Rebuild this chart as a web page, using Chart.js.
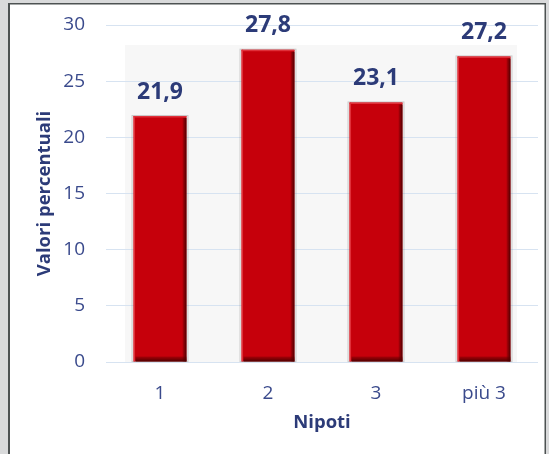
<!DOCTYPE html>
<html>
<head>
<meta charset="utf-8">
<script src="https://cdn.jsdelivr.net/npm/chart.js@4.4.1/dist/chart.umd.min.js"></script>
<style>
  html, body { margin: 0; padding: 0; background: #d9dadb; }
  #wrap { width: 549px; height: 454px; position: relative; }
</style>
</head>
<body>
<div id="wrap"><canvas id="c" width="549" height="454"></canvas></div>
<script>
// Percentuale per numero di nipoti
const categories = ['1', '2', '3', 'più 3'];
const values = [21.9, 27.8, 23.1, 27.2];
const yTicks = [0, 5, 10, 15, 20, 25, 30];

const navy = '#2c3b78';
const tickBlue = '#3a4a8c';
const barRed = '#c6000b';

// Outer frame and the light grey plot panel
const framePlugin = {
  id: 'frame',
  beforeDraw(chart) {
    const ctx = chart.ctx;
    const a = chart.chartArea;
    ctx.save();
    ctx.fillStyle = '#d9dadb';
    ctx.fillRect(0, 0, chart.width, chart.height);
    ctx.fillStyle = '#ffffff';
    ctx.fillRect(9, 4, 536, chart.height);
    ctx.fillStyle = '#4d5252';
    ctx.fillRect(8, 3, 2, chart.height);
    ctx.fillRect(8, 3, 538, 1.5);
    ctx.fillRect(544.5, 3, 1.5, chart.height);
    // inner plot panel
    ctx.fillStyle = '#f7f7f7';
    ctx.fillRect(a.left + 19, a.top + 20, a.right - a.left - 40, a.bottom - a.top - 20);
    ctx.restore();
  }
};

// Bevelled bar edges and value labels
const barDecor = {
  id: 'barDecor',
  afterDatasetsDraw(chart) {
    const ctx = chart.ctx;
    const meta = chart.getDatasetMeta(0);
    ctx.save();
    meta.data.forEach((bar, i) => {
      const w = bar.width;
      const l = bar.x - w / 2, r = bar.x + w / 2;
      const t = bar.y, b = bar.base;
      // soft outline
      ctx.strokeStyle = 'rgba(120,120,120,0.35)';
      ctx.lineWidth = 1;
      ctx.strokeRect(l - 1.5, t - 0.5, w + 3, b - t + 0.5);
      // light top/left highlight
      ctx.fillStyle = '#e0303a';
      ctx.fillRect(l, t, w, 1.5);
      ctx.fillRect(l, t, 1.5, b - t);
      // dark right and bottom edges
      const grad = ctx.createLinearGradient(r - 4, 0, r, 0);
      grad.addColorStop(0, 'rgba(90,0,0,0.2)');
      grad.addColorStop(1, 'rgba(70,0,0,0.95)');
      ctx.fillStyle = grad;
      ctx.fillRect(r - 4, t + 2, 4, b - t - 2);
      const gradB = ctx.createLinearGradient(0, b - 5, 0, b);
      gradB.addColorStop(0, 'rgba(90,0,0,0.3)');
      gradB.addColorStop(1, 'rgba(70,0,0,0.95)');
      ctx.fillStyle = gradB;
      ctx.fillRect(l + 2, b - 5, w - 2, 5);
      // value label
      ctx.fillStyle = navy;
      ctx.font = 'bold 23px "Open Sans"';
      ctx.textAlign = 'center';
      ctx.textBaseline = 'middle';
      ctx.fillText(values[i].toFixed(1).replace('.', ','), bar.x, t - 24);
    });
    ctx.restore();
  }
};

new Chart(document.getElementById('c'), {
  type: 'bar',
  data: {
    labels: categories,
    datasets: [{
      data: values,
      backgroundColor: barRed,
      borderWidth: 0,
      barPercentage: 0.49,
      categoryPercentage: 1.0
    }]
  },
  options: {
    responsive: false,
    animation: false,
    events: [],
    layout: { padding: { left: 0, top: 25, right: 11, bottom: 0 } },
    plugins: { legend: { display: false }, tooltip: { enabled: false } },
    scales: {
      x: {
        grid: { display: false, drawTicks: false },
        border: { display: false },
        ticks: { color: tickBlue, font: { family: 'Open Sans', size: 19 }, padding: 20 },
        title: {
          display: true, text: 'Nipoti', color: navy,
          font: { family: 'Open Sans', size: 18.5, weight: 'bold' },
          padding: { top: 0, bottom: 20 }
        },
        afterFit(scale) { scale.height = 92; scale.paddingLeft = 0; scale.paddingRight = 0; }
      },
      y: {
        min: 0, max: 30,
        afterBuildTicks(scale) { scale.ticks = yTicks.map(v => ({ value: v })); },
        grid: { color: '#d7e3f1', lineWidth: 1, drawTicks: false },
        border: { display: false },
        ticks: { color: tickBlue, font: { family: 'Open Sans', size: 19 }, padding: 21 },
        title: {
          display: true, text: 'Valori percentuali', color: navy,
          font: { family: 'Open Sans', size: 18.5, weight: 'bold' },
          padding: { top: 34, bottom: 0 }
        },
        afterFit(scale) { scale.width = 106; scale.paddingTop = 0; scale.paddingBottom = 0; }
      }
    }
  },
  plugins: [framePlugin, barDecor]
});
</script>
</body>
</html>
